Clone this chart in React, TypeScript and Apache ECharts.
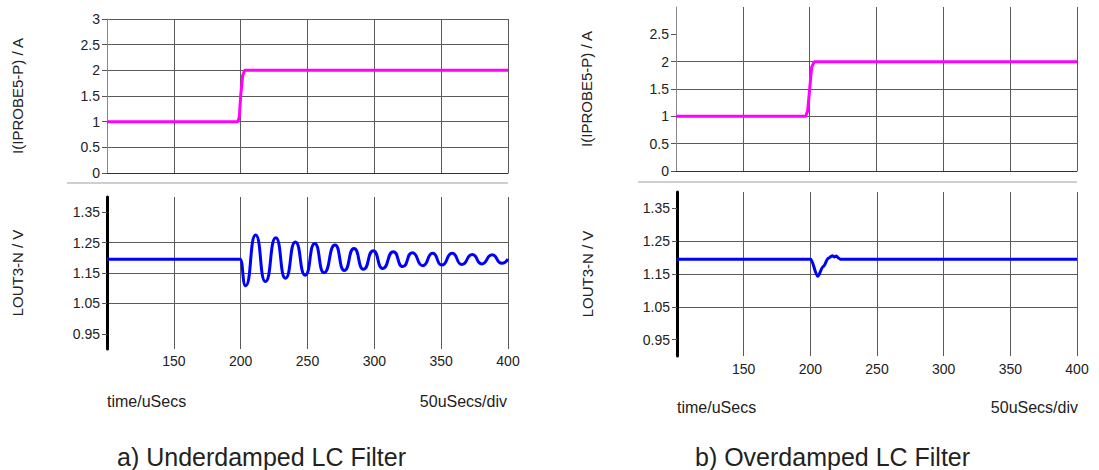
import React, { useEffect, useRef } from "react";
import * as echarts from "echarts";

// ---- data ----
const currentTimeA = [100, 198, 199, 200, 201.5, 203, 400];
const currentA = [1, 1, 1.1, 1.5, 1.9, 2, 2];
const currentTimeB = [100, 197, 198.5, 200, 201.5, 203.5, 400];
const currentB = [1, 1, 1.1, 1.5, 1.9, 2, 2];

const voltTimeA = [100, 199.5, 203.7, 211.2, 218.5, 226.3, 233.5, 240.9, 248.3, 255.4, 262.3, 270.6, 277.5, 284.8, 291.8, 299.2, 306.2, 314.2, 321.2, 328.4, 336.2, 343.7, 350.4, 358.3, 365.4, 373.3, 380.3, 388.2, 395.3, 400];
const voltA = [1.195, 1.195, 1.108, 1.275, 1.122, 1.266, 1.133, 1.252, 1.143, 1.247, 1.151, 1.242, 1.158, 1.231, 1.162, 1.223, 1.165, 1.22, 1.171, 1.217, 1.174, 1.215, 1.176, 1.215, 1.178, 1.211, 1.18, 1.21, 1.182, 1.196];

const voltTimeB = [100, 200.3, 205.5, 209.7, 213.5, 216.5, 218, 219.5, 221, 222.3, 400];
const voltB = [1.195, 1.195, 1.143, 1.173, 1.198, 1.206, 1.202, 1.205, 1.199, 1.195, 1.195];

const currentTicksA = [0, 0.5, 1, 1.5, 2, 2.5, 3];
const currentTicksB = [0, 0.5, 1, 1.5, 2, 2.5];
const voltTicks = [0.95, 1.05, 1.15, 1.25, 1.35];

const currentName = "I(IPROBE5-P) / A";
const voltName = "LOUT3-N / V";
const timeLabel = "time/uSecs";
const divLabel = "50uSecs/div";
const captionA = "a) Underdamped LC Filter";
const captionB = "b) Overdamped LC Filter";

const FONT = "'Liberation Sans', Arial, Helvetica, sans-serif";
const GRIDC = "#5a5a5a";

function topX(gridIndex: number) {
  return {
    type: "value", gridIndex, min: 100, max: 400, interval: 50,
    axisLabel: { show: false }, axisTick: { show: false },
    axisLine: { show: true, onZero: false, lineStyle: { color: "#333", width: 1 } },
    splitLine: { show: true, lineStyle: { color: GRIDC, width: 1 } },
  };
}
function bottomX(gridIndex: number, margin: number) {
  return {
    type: "value", gridIndex, min: 100, max: 400, interval: 50,
    axisLine: { show: false }, axisTick: { show: false },
    axisLabel: { showMinLabel: false, margin, fontFamily: FONT, fontSize: 14, color: "#222" },
    splitLine: { show: true, lineStyle: { color: GRIDC, width: 1 } },
  };
}
function topY(gridIndex: number, ticks: number[], showMax: boolean) {
  return {
    type: "value", gridIndex, min: 0, max: 3, interval: 0.5,
    name: currentName, nameLocation: "middle", nameGap: 82,
    nameTextStyle: { fontFamily: FONT, fontSize: 15, color: "#222" },
    axisLine: { show: true, lineStyle: { color: "#888", width: 1 } },
    axisTick: { show: true, length: 5, customValues: ticks, lineStyle: { color: "#555" } },
    axisLabel: { margin: 7, customValues: ticks, fontFamily: FONT, fontSize: 14, color: "#222" },
    splitLine: { show: true, showMaxLine: showMax, lineStyle: { color: GRIDC, width: 1 } },
  };
}
function bottomY(gridIndex: number) {
  return {
    type: "value", gridIndex, min: 0.9, max: 1.4, interval: 0.05,
    name: voltName, nameLocation: "middle", nameGap: 82,
    nameTextStyle: { fontFamily: FONT, fontSize: 15, color: "#222" },
    axisLine: { show: true, lineStyle: { color: "#000", width: 3 } },
    axisTick: { show: true, length: 5, customValues: voltTicks, lineStyle: { color: "#555" } },
    axisLabel: {
      margin: 7, customValues: voltTicks, fontFamily: FONT, fontSize: 14, color: "#222",
      formatter: (v: number) => v.toFixed(2),
    },
    splitLine: { show: true, showMinLine: false, showMaxLine: false, lineStyle: { color: GRIDC, width: 1 } },
  };
}

export default function App() {
  const ref = useRef<HTMLDivElement>(null);
  useEffect(() => {
    document.body.style.margin = "0";
    const chart = echarts.init(ref.current!, undefined, { renderer: "svg" });
    const zip = (xs: number[], ys: number[]) => xs.map((x, i) => [x, ys[i]]);
    const textStyle = (size: number) => ({ fontFamily: FONT, fontSize: size, fill: "#222" });
    chart.setOption({
      animation: false,
      backgroundColor: "#fff",
      grid: [
        { left: 107, top: 19, width: 401, height: 154 },
        { left: 107, top: 197, width: 401, height: 152 },
        { left: 676, top: 7, width: 401, height: 164 },
        { left: 677, top: 192, width: 400, height: 164 },
      ],
      xAxis: [topX(0), bottomX(1, 5), topX(2), bottomX(3, 6)],
      yAxis: [topY(0, currentTicksA, true), bottomY(1), topY(2, currentTicksB, false), bottomY(3)],
      series: [
        { type: "line", xAxisIndex: 0, yAxisIndex: 0, data: zip(currentTimeA, currentA), showSymbol: false, lineStyle: { color: "#ff00ff", width: 3 } },
        { type: "line", xAxisIndex: 1, yAxisIndex: 1, data: zip(voltTimeA, voltA), showSymbol: false, smooth: 0.6, smoothMonotone: "x", lineStyle: { color: "#0000ff", width: 3 } },
        { type: "line", xAxisIndex: 2, yAxisIndex: 2, data: zip(currentTimeB, currentB), showSymbol: false, lineStyle: { color: "#ff00ff", width: 3 } },
        { type: "line", xAxisIndex: 3, yAxisIndex: 3, data: zip(voltTimeB, voltB), showSymbol: false, smooth: 0.3, smoothMonotone: "x", lineStyle: { color: "#0000ff", width: 3 } },
      ],
      graphic: [
        { type: "line", shape: { x1: 67, y1: 183, x2: 508, y2: 183 }, style: { stroke: "#cfcfcf", lineWidth: 2 } },
        { type: "line", shape: { x1: 638, y1: 182, x2: 1077, y2: 182 }, style: { stroke: "#cfcfcf", lineWidth: 2 } },
        { type: "text", x: 107, y: 401, style: { ...textStyle(16), text: timeLabel, textVerticalAlign: "middle" } },
        { type: "text", x: 507, y: 401, style: { ...textStyle(16), text: divLabel, textAlign: "right", textVerticalAlign: "middle" } },
        { type: "text", x: 677, y: 407, style: { ...textStyle(16), text: timeLabel, textVerticalAlign: "middle" } },
        { type: "text", x: 1078, y: 407, style: { ...textStyle(16), text: divLabel, textAlign: "right", textVerticalAlign: "middle" } },
        { type: "text", x: 117, y: 457, style: { ...textStyle(25), text: captionA, textVerticalAlign: "middle" } },
        { type: "text", x: 695, y: 457, style: { ...textStyle(25), text: captionB, textVerticalAlign: "middle" } },
      ],
    });
    return () => chart.dispose();
  }, []);
  return <div ref={ref} style={{ width: 1099, height: 470 }} />;
}
